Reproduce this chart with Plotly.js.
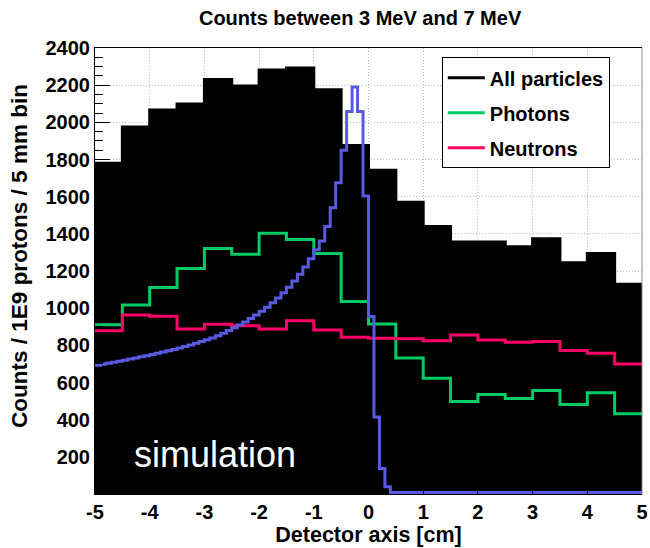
<!DOCTYPE html>
<html><head><meta charset="utf-8">
<script src="https://cdn.plot.ly/plotly-3.0.1.min.js"></script>
<style>html,body{margin:0;padding:0;background:#fff}#chart{width:650px;height:548px}</style>
</head><body><div id="chart"></div>
<script>
// ---- data ----
const coarseStart = -5;      // first bin edge [cm]
const coarseWidth = 0.5;     // 5 mm bins
const fineStart = -5;
const fineWidth = 0.1;       // 1 mm bins

const allParticles = [1780, 1975, 2066, 2098, 2230, 2196, 2282, 2293, 2175, 1875,
                      1742, 1570, 1439, 1356, 1356, 1331, 1374, 1245, 1294, 1129];
const photons      = [911, 1017, 1111, 1213, 1321, 1290, 1403, 1370, 1294, 1036,
                      915, 732, 623, 498, 536, 514, 557, 482, 545, 432];
const neutrons     = [879, 963, 956, 888, 914, 906, 888, 932, 882, 843,
                      838, 836, 825, 856, 829, 816, 821, 772, 757, 700];
const protonProfile = [693, 698, 703, 709, 714, 720, 726, 732, 738, 744,
                       751, 757, 764, 771, 778, 786, 794, 802, 811, 820,
                       830, 840, 852, 865, 880, 895, 910, 926, 944, 963,
                       983, 1005, 1029, 1055, 1083, 1113, 1146, 1182, 1222, 1266,
                       1315, 1362, 1440, 1540, 1675, 1850, 2058, 2190, 2058, 1603,
                       955, 414, 137, 39, 8, 8, 8, 8, 8, 8,
                       8, 8, 8, 8, 8, 8, 8, 8, 8, 8,
                       8, 8, 8, 8, 8, 8, 8, 8, 8, 8,
                       8, 8, 8, 8, 8, 8, 8, 8, 8, 8,
                       8, 8, 8, 8, 8, 8, 8, 8, 8, 8];
const xTicks = [-5, -4, -3, -2, -1, 0, 1, 2, 3, 4, 5];
const yTicks = [200, 400, 600, 800, 1000, 1200, 1400, 1600, 1800, 2000, 2200, 2400];
const seriesNames = ['All particles', 'Photons', 'Neutrons'];

// ---- helpers ----
function centers(n, start, w) { const c = []; for (let i = 0; i < n; i++) c.push(start + (i + 0.5) * w); return c; }
function step(values, start, w) {
  const x = [], y = [];
  for (let i = 0; i < values.length; i++) { x.push(start + i * w); y.push(values[i]); }
  x.push(start + values.length * w); y.push(values[values.length - 1]);
  return {x, y};
}

const FONT = '"Liberation Sans", Arial, Helvetica, sans-serif';
const sAll = step(allParticles, coarseStart, coarseWidth);
const sPh = step(photons, coarseStart, coarseWidth);
const sNe = step(neutrons, coarseStart, coarseWidth);
const sPr = step(protonProfile, fineStart, fineWidth);

const traces = [
  {type: 'bar', x: centers(allParticles.length, coarseStart, coarseWidth), y: allParticles,
   width: coarseWidth, marker: {color: '#000000', line: {width: 0}}, showlegend: false, hoverinfo: 'skip'},
  {type: 'scatter', mode: 'lines', x: sAll.x, y: sAll.y, name: seriesNames[0], legendgroup: 'a',
   line: {shape: 'hv', color: '#000000', width: 3}},
  {type: 'scatter', mode: 'lines', x: sPh.x, y: sPh.y, name: seriesNames[1], legendgroup: 'b',
   line: {shape: 'hv', color: '#00cc66', width: 3}},
  {type: 'scatter', mode: 'lines', x: sNe.x, y: sNe.y, name: seriesNames[2], legendgroup: 'c',
   line: {shape: 'hv', color: '#ff0066', width: 3}},
  {type: 'scatter', mode: 'lines', x: sPr.x, y: sPr.y, showlegend: false,
   line: {shape: 'hv', color: '#5a5ae0', width: 3}}
];

const tickFont = {family: FONT, size: 20, color: '#000', weight: 'bold'};
const layout = {
  width: 650, height: 548,
  margin: {l: 95, r: 8, t: 48, b: 54},
  paper_bgcolor: '#fff', plot_bgcolor: '#fff',
  bargap: 0,
  showlegend: true,
  title: {text: 'Counts between 3 MeV and 7 MeV', font: {family: FONT, size: 20, color: '#000', weight: 'bold'},
          xref: 'container', yref: 'container', x: 0.554, y: 0.967, xanchor: 'center', yanchor: 'middle'},
  xaxis: {range: [-5, 5], tickmode: 'array', tickvals: xTicks, ticktext: xTicks.map(String),
          ticks: 'inside', ticklen: 12, tickcolor: '#000',
          showline: true, linecolor: '#000', linewidth: 1, mirror: true,
          showgrid: true, gridcolor: '#bdbdbd', griddash: '1px,2px', gridwidth: 1, zeroline: false,
          tickfont: tickFont,
          title: {text: 'Detector axis [cm]', font: {family: FONT, size: 21.5, color: '#000', weight: 'bold'}, standoff: 3}},
  yaxis: {range: [0, 2400], tickmode: 'array', tickvals: yTicks, ticktext: yTicks.map(String),
          ticks: 'inside', ticklen: 15, tickcolor: '#000',
          minor: {tick0: 0, dtick: 50, ticks: 'inside', ticklen: 8, tickcolor: '#000', showgrid: false},
          showline: true, linecolor: '#000', linewidth: 1,
          showgrid: true, gridcolor: '#bdbdbd', griddash: '1px,2px', gridwidth: 1, zeroline: false,
          tickfont: tickFont},
  legend: {x: 0.634, y: 0.979, xanchor: 'left', yanchor: 'top', bgcolor: '#fff',
           bordercolor: '#000', borderwidth: 1, tracegroupgap: 6, itemwidth: 37,
           entrywidth: 153, entrywidthmode: 'pixels',
           font: {family: FONT, size: 20, color: '#000', weight: 'bold'}},
  shapes: [{type: 'line', xref: 'paper', yref: 'paper', x0: 1, x1: 1, y0: 0, y1: 1,
            line: {color: '#888', width: 1}}],
  annotations: [
    {text: 'Counts / 1E9 protons / 5 mm bin', textangle: -90, xref: 'paper', yref: 'paper',
     x: -0.137, y: 0.534, xanchor: 'center', yanchor: 'middle', showarrow: false,
     font: {family: FONT, size: 22.5, color: '#000', weight: 'bold'}},
    {text: 'simulation', xref: 'x', yref: 'y', x: -2.8, y: 210, showarrow: false,
     font: {family: FONT, size: 36, color: '#fff'}}]
};

Plotly.newPlot('chart', traces, layout, {displayModeBar: false, staticPlot: true});
</script>
</body></html>
